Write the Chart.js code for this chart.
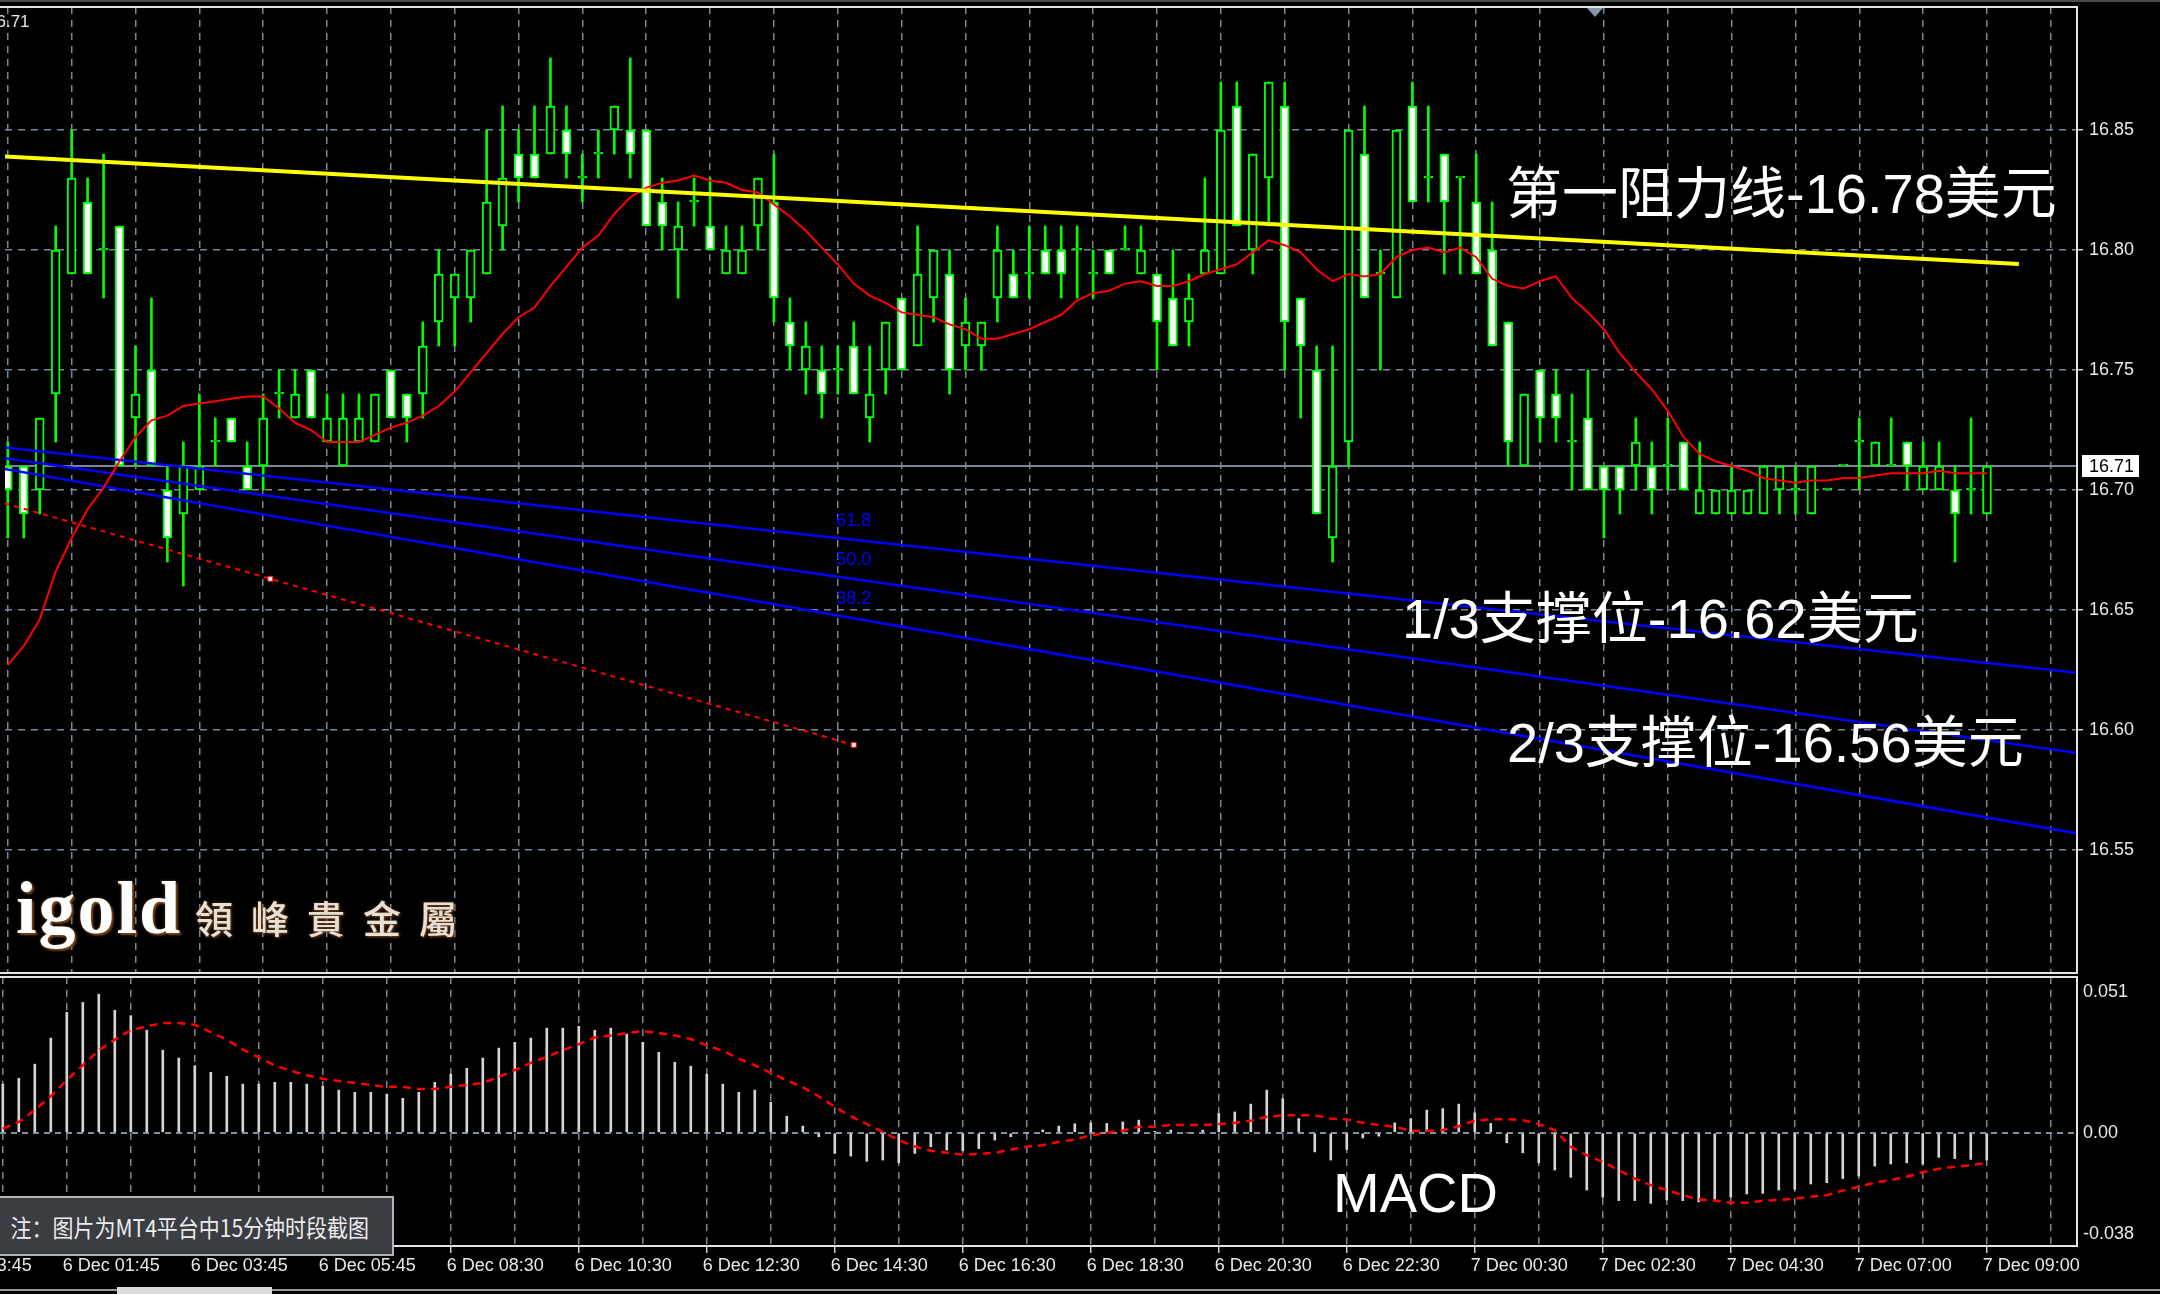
<!DOCTYPE html>
<html>
<head>
<meta charset="utf-8">
<title>XAG/USD M15</title>
<script src="https://cdn.jsdelivr.net/npm/chart.js@4.4.1/dist/chart.umd.min.js"></script>
<style>
  html, body { margin: 0; padding: 0; background: #000; width: 2160px; height: 1294px; overflow: hidden; }
  #wrap { position: relative; width: 2160px; height: 1294px; background: #000; overflow: hidden; }
  canvas { position: absolute; left: 0; }
  #price { top: 0; }
  #macd { top: 970px; }
  .topband { position: absolute; left: 0; top: 0; width: 2160px; height: 2px; background: #4a4a4a; }
  .note { position: absolute; white-space: nowrap; color: #fff; }
  .big { font-family: "Liberation Sans", "Noto Sans CJK SC", sans-serif; font-size: 56px; line-height: 56px; }
  .shift { position: absolute; left: 1587px; top: 8px; width: 0; height: 0;
           border-left: 8px solid transparent; border-right: 8px solid transparent; border-top: 9px solid #8595a5; }
  .hdr { position: absolute; left: -13px; top: 12px; font: 17px "Liberation Sans", sans-serif; color: #e8e8e8; line-height: 20px; }
  .logo-en { position: absolute; left: 16px; top: 871px; font: bold 74px "Liberation Serif", serif; line-height: 74px;
             letter-spacing: 2px; color: #fff; text-shadow: 2px 2px 2px #7a4515, 0 0 3px #6b3a10; }
  .logo-zh { position: absolute; left: 195px; top: 898px; font: 500 38px "Noto Sans CJK TC", sans-serif; line-height: 38px;
             letter-spacing: 18px; color: #e6e0da; text-shadow: 1px 1px 3px #7a4515, 0 0 2px #6b3a10; }
  .memo { position: absolute; left: -2px; top: 1196px; width: 396px; height: 60px; background: #3a3d42;
          border: 2px solid #b4b4b4; box-sizing: border-box; display: flex; align-items: center; }
  .memo span { display: inline-block; padding-left: 12px; font: 24px "Noto Sans CJK SC", sans-serif; color: #ececec;
               transform: scaleX(0.875); transform-origin: left center; white-space: nowrap; }
  .footline { position: absolute; left: 0; top: 1289px; width: 2160px; height: 2px; background: #9a9a9a; }
  .foottab { position: absolute; left: 117px; top: 1287px; width: 155px; height: 7px; background: #dcdcdc; }
</style>
</head>
<body>
<div id="wrap">
  <div class="topband"></div>
  <canvas id="price" width="2160" height="980"></canvas>
  <canvas id="macd" width="2160" height="324"></canvas>
  <div class="shift"></div>
  <div class="hdr">16.71</div>

  <div class="note big" style="left:1506px; top:166px;">第一阻力线-16.78美元</div>
  <div class="note big" style="left:1402px; top:591px;">1/3支撑位-16.62美元</div>
  <div class="note big" style="left:1507px; top:715px;">2/3支撑位-16.56美元</div>
  <div class="note big" style="left:1333px; top:1165px;">MACD</div>

  <div class="logo-en">igold</div>
  <div class="logo-zh">領峰貴金屬</div>

  <div class="memo"><span>注：图片为MT4平台中15分钟时段截图</span></div>
  <div class="footline"></div>
  <div class="foottab"></div>
</div>

<script>
// ---------------- 15-minute bars, 6 Dec 00:45 → 7 Dec 09:00 ----------------
const opens = [
  16.71,16.71,16.70,16.74,16.79,16.82,16.80,16.81,16.73,16.75,
  16.70,16.69,16.70,16.72,16.73,16.71,16.71,16.74,16.73,16.75,
  16.72,16.71,16.72,16.72,16.75,16.74,16.74,16.77,16.78,16.78,
  16.79,16.81,16.84,16.84,16.84,16.85,16.83,16.84,16.85,16.85,
  16.85,16.82,16.80,16.82,16.81,16.79,16.79,16.81,16.82,16.77,
  16.75,16.75,16.75,16.76,16.73,16.75,16.78,16.76,16.78,16.79,
  16.76,16.76,16.78,16.79,16.79,16.80,16.80,16.80,16.79,16.80,
  16.80,16.79,16.79,16.78,16.77,16.79,16.79,16.86,16.80,16.83,
  16.86,16.78,16.75,16.68,16.72,16.84,16.79,16.78,16.86,16.83,
  16.84,16.83,16.82,16.80,16.77,16.71,16.75,16.74,16.72,16.73,
  16.71,16.71,16.71,16.71,16.71,16.72,16.69,16.69,16.69,16.69,
  16.69,16.70,16.70,16.69,16.70,16.71,16.72,16.71,16.71,16.72,
  16.70,16.70,16.70,16.70,16.69
];
const highs = [
  16.72,16.71,16.73,16.81,16.85,16.83,16.84,16.81,16.76,16.78,
  16.71,16.72,16.74,16.73,16.73,16.72,16.74,16.75,16.75,16.75,
  16.74,16.74,16.74,16.74,16.75,16.74,16.77,16.80,16.79,16.80,
  16.85,16.86,16.85,16.86,16.88,16.86,16.84,16.85,16.86,16.88,
  16.85,16.83,16.82,16.83,16.83,16.81,16.81,16.83,16.84,16.78,
  16.77,16.76,16.76,16.77,16.76,16.77,16.78,16.81,16.80,16.80,
  16.78,16.77,16.81,16.80,16.81,16.81,16.81,16.81,16.80,16.80,
  16.81,16.81,16.79,16.80,16.79,16.83,16.87,16.87,16.84,16.87,
  16.87,16.78,16.76,16.76,16.85,16.86,16.80,16.85,16.87,16.86,
  16.84,16.83,16.84,16.82,16.77,16.74,16.75,16.75,16.74,16.75,
  16.71,16.71,16.73,16.72,16.73,16.72,16.72,16.70,16.71,16.70,
  16.71,16.71,16.71,16.71,16.70,16.71,16.73,16.72,16.73,16.72,
  16.72,16.72,16.71,16.73,16.71
];
const lows = [
  16.68,16.68,16.69,16.72,16.79,16.79,16.78,16.71,16.71,16.71,
  16.67,16.66,16.70,16.71,16.72,16.70,16.70,16.73,16.73,16.73,
  16.72,16.71,16.72,16.72,16.73,16.72,16.73,16.76,16.76,16.77,
  16.79,16.80,16.82,16.83,16.84,16.83,16.82,16.83,16.84,16.83,
  16.81,16.80,16.78,16.81,16.80,16.79,16.79,16.80,16.77,16.75,
  16.74,16.73,16.74,16.74,16.72,16.74,16.75,16.76,16.77,16.74,
  16.75,16.75,16.77,16.78,16.78,16.79,16.78,16.78,16.78,16.79,
  16.80,16.79,16.75,16.76,16.76,16.79,16.79,16.81,16.79,16.81,
  16.75,16.73,16.69,16.67,16.71,16.78,16.75,16.78,16.82,16.82,
  16.79,16.79,16.79,16.76,16.71,16.71,16.72,16.72,16.70,16.70,
  16.68,16.69,16.70,16.69,16.70,16.70,16.69,16.69,16.69,16.69,
  16.69,16.69,16.69,16.69,16.70,16.71,16.70,16.71,16.71,16.70,
  16.70,16.70,16.67,16.69,16.69
];
const closes = [
  16.70,16.69,16.73,16.80,16.83,16.79,16.80,16.71,16.74,16.71,
  16.68,16.71,16.71,16.72,16.72,16.70,16.73,16.74,16.74,16.73,
  16.73,16.73,16.73,16.74,16.73,16.73,16.76,16.79,16.79,16.80,
  16.82,16.83,16.83,16.83,16.86,16.84,16.83,16.84,16.86,16.84,
  16.81,16.81,16.81,16.82,16.80,16.80,16.80,16.83,16.78,16.76,
  16.76,16.74,16.75,16.74,16.74,16.77,16.75,16.79,16.80,16.75,
  16.77,16.77,16.80,16.78,16.79,16.79,16.79,16.80,16.79,16.79,
  16.80,16.80,16.77,16.76,16.78,16.80,16.85,16.81,16.84,16.87,
  16.77,16.76,16.69,16.71,16.85,16.78,16.79,16.85,16.82,16.83,
  16.82,16.83,16.79,16.76,16.72,16.74,16.73,16.73,16.72,16.70,
  16.70,16.70,16.72,16.70,16.71,16.70,16.70,16.70,16.70,16.70,
  16.71,16.71,16.70,16.71,16.70,16.71,16.72,16.72,16.71,16.71,
  16.71,16.71,16.69,16.70,16.71
];

// moving average (red) per bar
const maValues = [
  16.627,16.635,16.646,16.666,16.680,16.692,16.701,16.712,16.722,16.729,
  16.731,16.735,16.736,16.737,16.738,16.739,16.739,16.734,16.728,16.725,
  16.720,16.720,16.720,16.723,16.726,16.728,16.731,16.735,16.741,16.749,
  16.757,16.765,16.772,16.776,16.785,16.793,16.801,16.806,16.815,16.822,
  16.826,16.828,16.829,16.831,16.829,16.828,16.825,16.824,16.819,16.814,
  16.808,16.801,16.794,16.786,16.781,16.778,16.774,16.773,16.772,16.769,
  16.767,16.763,16.763,16.765,16.767,16.770,16.773,16.779,16.782,16.783,
  16.786,16.787,16.785,16.785,16.787,16.790,16.792,16.794,16.799,16.804,
  16.802,16.799,16.792,16.787,16.790,16.789,16.790,16.797,16.800,16.801,
  16.799,16.801,16.797,16.788,16.785,16.784,16.787,16.789,16.780,16.774,
  16.767,16.757,16.749,16.742,16.733,16.722,16.715,16.712,16.710,16.708,
  16.705,16.704,16.703,16.704,16.704,16.705,16.705,16.706,16.707,16.707,
  16.707,16.708,16.707,16.707,16.707
];

// MACD histogram and signal per bar
const macdHist = [
  0.0161,0.0180,0.0227,0.0313,0.0398,0.0431,0.0458,0.0405,0.0387,0.0339,
  0.0273,0.0247,0.0222,0.0200,0.0187,0.0161,0.0161,0.0167,0.0167,0.0161,
  0.0154,0.0141,0.0134,0.0134,0.0128,0.0114,0.0134,0.0167,0.0194,0.0213,
  0.0247,0.0280,0.0299,0.0313,0.0346,0.0346,0.0352,0.0339,0.0346,0.0326,
  0.0299,0.0266,0.0233,0.0220,0.0194,0.0161,0.0134,0.0141,0.0101,0.0055,
  0.0022,-0.0013,-0.0068,-0.0077,-0.0094,-0.0090,-0.0099,-0.0068,-0.0046,-0.0057,
  -0.0059,-0.0052,-0.0024,-0.0013,0.0000,0.0010,0.0022,0.0030,0.0033,0.0031,
  0.0036,0.0042,0.0005,0.0009,0.0000,0.0009,0.0064,0.0069,0.0095,0.0141,
  0.0113,0.0047,-0.0063,-0.0090,-0.0055,-0.0017,-0.0011,0.0033,0.0047,0.0075,
  0.0080,0.0095,0.0066,0.0031,-0.0033,-0.0066,-0.0099,-0.0123,-0.0147,-0.0189,
  -0.0213,-0.0224,-0.0224,-0.0233,-0.0222,-0.0224,-0.0228,-0.0220,-0.0213,-0.0202,
  -0.0200,-0.0189,-0.0187,-0.0169,-0.0165,-0.0151,-0.0143,-0.0110,-0.0103,-0.0099,
  -0.0103,-0.0081,-0.0085,-0.0088,-0.0090
];
const macdSignal = [
  0.0014,0.0036,0.0075,0.0121,0.0174,0.0223,0.0273,0.0308,0.0339,0.0352,
  0.0363,0.0363,0.0357,0.0333,0.0308,0.0275,0.0249,0.0223,0.0205,0.0190,
  0.0179,0.0171,0.0165,0.0158,0.0152,0.0152,0.0145,0.0145,0.0152,0.0158,
  0.0165,0.0185,0.0207,0.0231,0.0251,0.0273,0.0293,0.0315,0.0322,0.0330,
  0.0336,0.0330,0.0322,0.0310,0.0289,0.0271,0.0245,0.0223,0.0198,0.0174,
  0.0150,0.0121,0.0086,0.0055,0.0029,0.0003,-0.0024,-0.0045,-0.0059,-0.0066,
  -0.0072,-0.0070,-0.0066,-0.0055,-0.0046,-0.0041,-0.0030,-0.0022,-0.0008,0.0000,
  0.0007,0.0020,0.0020,0.0026,0.0026,0.0026,0.0029,0.0033,0.0040,0.0053,
  0.0058,0.0058,0.0058,0.0047,0.0044,0.0033,0.0026,0.0020,0.0007,0.0007,
  0.0009,0.0022,0.0040,0.0045,0.0045,0.0042,0.0029,0.0009,-0.0046,-0.0074,
  -0.0096,-0.0123,-0.0151,-0.0173,-0.0189,-0.0206,-0.0220,-0.0224,-0.0231,-0.0231,
  -0.0224,-0.0222,-0.0218,-0.0211,-0.0206,-0.0191,-0.0178,-0.0165,-0.0156,-0.0145,
  -0.0130,-0.0119,-0.0112,-0.0107,-0.0099
];

// drawn objects: [bar, price] anchor points
const resistanceLine = [[-1, 16.8392], [126, 16.7942]];
const fanBaseLine    = [[-20.1, 16.7321], [16.45, 16.6630], [53, 16.5938]];
const fanRay618      = [[-1, 16.7183], [130, 16.6236]];
const fanRay500      = [[-1, 16.7140], [130, 16.5901]];
const fanRay382      = [[-1, 16.7097], [130, 16.5565]];
const fanLevelLabels = ['61.8', '50.0', '38.2'];
const fanLevelPrices = [16.6792, 16.6629, 16.6466];
const fanLabelBar    = 53;
const bidPrice       = 16.71;
const bidLine        = [[-1, bidPrice], [131, bidPrice]];

// axes
const priceTicks     = [16.55, 16.60, 16.65, 16.70, 16.75, 16.80, 16.85];
const priceMin = 16.49875, priceMax = 16.90125;
const macdTicks      = [0.051, 0.00, -0.038];
const macdTickLabels = ['0.051', '0.00', '-0.038'];
const macdMin = -0.0374, macdMax = 0.0515;
const gridBars = [-4,0,4,8,12,16,20,24,28,32,36,40,44,48,52,56,60,64,68,72,76,80,84,88,92,96,100,104,108,112,116,120,124,128];
const timeTickBars   = [-4,4,12,20,28,36,44,52,60,68,76,84,92,100,108,116,124];
const timeTickLabels = ['5 Dec 23:45','6 Dec 01:45','6 Dec 03:45','6 Dec 05:45','6 Dec 08:30','6 Dec 10:30',
  '6 Dec 12:30','6 Dec 14:30','6 Dec 16:30','6 Dec 18:30','6 Dec 20:30','6 Dec 22:30',
  '7 Dec 00:30','7 Dec 02:30','7 Dec 04:30','7 Dec 07:00','7 Dec 09:00'];
const xMin = -0.175, xMax = 129.64;

// ---------------- helpers ----------------
const GRID = '#778899';
const AXIS_FONT = { family: 'Liberation Sans', size: 18 };
const toXY = pts => pts.map(p => ({ x: p[0], y: p[1] }));
const labelAt = v => { const k = timeTickBars.indexOf(v); return k < 0 ? '' : timeTickLabels[k]; };

function xAxis(withLabels) {
  return {
    type: 'linear', min: xMin, max: xMax, offset: false,
    afterBuildTicks: s => { s.ticks = gridBars.map(v => ({ value: v })); },
    grid: {
      color: GRID, lineWidth: 1.5, offset: false, borderDash: [7, 6],
      drawTicks: withLabels, tickLength: 7, tickWidth: 1.5,
      tickColor: c => (c.tick && timeTickBars.includes(c.tick.value)) ? '#d0d0d0' : 'rgba(0,0,0,0)'
    },
    border: { display: false, dash: [7, 6] },
    ticks: {
      display: withLabels, autoSkip: false, maxRotation: 0, minRotation: 0,
      align: 'start', labelOffset: -4, padding: 2, color: '#e8e8e8', font: AXIS_FONT,
      callback: v => labelAt(v)
    },
    afterFit: s => { s.paddingLeft = 0; s.paddingRight = 0; s.height = withLabels ? 48 : 0; }
  };
}

// panel frame: top, right and bottom edges
const framePlugin = {
  id: 'frame',
  afterDraw(chart) {
    const { ctx, chartArea: a } = chart;
    ctx.save();
    ctx.strokeStyle = '#e4e4e4';
    ctx.lineWidth = 2;
    ctx.beginPath();
    ctx.moveTo(0, a.top);
    ctx.lineTo(a.right, a.top);
    ctx.lineTo(a.right, a.bottom);
    ctx.lineTo(0, a.bottom);
    ctx.stroke();
    ctx.restore();
  }
};

const priceExtras = {
  id: 'priceExtras',
  afterDraw(chart) {
    const { ctx } = chart;
    const xs = chart.scales.x, ys = chart.scales.y;
    ctx.save();
    // fan level captions
    ctx.font = '18px "Liberation Sans"';
    ctx.fillStyle = '#0000ff';
    ctx.textAlign = 'center';
    ctx.textBaseline = 'alphabetic';
    fanLevelLabels.forEach((t, i) => {
      ctx.fillText(t, xs.getPixelForValue(fanLabelBar), ys.getPixelForValue(fanLevelPrices[i]) - 14);
    });
    // bid price tag on the axis
    const py = ys.getPixelForValue(bidPrice);
    ctx.fillStyle = '#ffffff';
    ctx.fillRect(ys.left + 5, py - 11, 57, 22);
    ctx.fillStyle = '#000000';
    ctx.textAlign = 'left';
    ctx.textBaseline = 'middle';
    ctx.font = '18px "Liberation Sans"';
    ctx.fillText(bidPrice.toFixed(2), ys.left + 12, py + 1);
    ctx.restore();
  }
};

const macdAxisLabels = {
  id: 'macdAxisLabels',
  afterDraw(chart) {
    const { ctx, chartArea: a } = chart;
    const ys = chart.scales.y;
    ctx.save();
    ctx.font = '18px "Liberation Sans"';
    ctx.fillStyle = '#e8e8e8';
    ctx.textAlign = 'left';
    ctx.textBaseline = 'middle';
    macdTicks.forEach((v, i) => {
      let py = ys.getPixelForValue(v);
      py = Math.min(Math.max(py, a.top + 15), a.bottom - 12);
      ctx.fillText(macdTickLabels[i], ys.left + 6, py);
    });
    ctx.restore();
  }
};

// ---------------- price chart ----------------
const bodies = opens.map((o, i) => ({ x: i, y: [Math.min(o, closes[i]), Math.max(o, closes[i])] }));
const wicks  = highs.map((h, i) => ({ x: i, y: [lows[i], h] }));
const maPts  = maValues.map((v, i) => ({ x: i, y: v }));

new Chart(document.getElementById('price'), {
  type: 'bar',
  data: {
    datasets: [
      { type: 'line', label: 'resistance', data: toXY(resistanceLine), borderColor: '#ffff00', borderWidth: 4,
        pointRadius: 0, tension: 0, order: 1 },
      { type: 'line', label: 'MA', data: maPts, borderColor: '#ff0000', borderWidth: 2,
        pointRadius: 0, tension: 0, order: 2 },
      { type: 'line', label: '61.8', data: toXY(fanRay618), borderColor: '#0000ff', borderWidth: 2.5,
        pointRadius: 0, order: 3 },
      { type: 'line', label: '50.0', data: toXY(fanRay500), borderColor: '#0000ff', borderWidth: 2.5,
        pointRadius: 0, order: 3 },
      { type: 'line', label: '38.2', data: toXY(fanRay382), borderColor: '#0000ff', borderWidth: 2.5,
        pointRadius: 0, order: 3 },
      { type: 'line', label: 'fan base', data: toXY(fanBaseLine), borderColor: '#ff0000', borderWidth: 2,
        borderDash: [5, 5], pointStyle: 'rect', pointRadius: [0, 3.5, 3.5], pointBackgroundColor: '#ffffff',
        pointBorderColor: '#ff0000', pointBorderWidth: 1, order: 4 },
      { type: 'bar', label: 'body', data: bodies, grouped: false, barThickness: 9, minBarLength: 2,
        borderSkipped: false, borderWidth: 2, borderColor: '#00ff00',
        backgroundColor: c => (closes[c.dataIndex] < opens[c.dataIndex]) ? '#ffffff' : '#000000', order: 6 },
      { type: 'bar', label: 'wick', data: wicks, grouped: false, barThickness: 2,
        backgroundColor: '#00ff00', borderWidth: 0, order: 7 },
      { type: 'line', label: 'bid', data: toXY(bidLine), borderColor: '#778899', borderWidth: 2,
        pointRadius: 0, order: 8 }
    ]
  },
  options: {
    responsive: false, animation: false, events: [],
    layout: { padding: { top: 7, bottom: 7, left: 0, right: 0 } },
    plugins: { legend: { display: false }, tooltip: { enabled: false } },
    scales: {
      x: xAxis(false),
      y: {
        type: 'linear', position: 'right', min: priceMin, max: priceMax, beginAtZero: false,
        afterBuildTicks: s => { s.ticks = priceTicks.map(v => ({ value: v })); },
        grid: { color: GRID, lineWidth: 1.5, borderDash: [7, 6], drawTicks: true, tickLength: 6,
                tickColor: '#d0d0d0', tickWidth: 1.5 },
        border: { display: false, dash: [7, 6] },
        ticks: { color: '#e8e8e8', font: AXIS_FONT, padding: 6, callback: v => v.toFixed(2) },
        afterFit: s => { s.width = 83; s.paddingTop = 0; s.paddingBottom = 0; }
      }
    }
  },
  plugins: [framePlugin, priceExtras]
});

// ---------------- MACD chart ----------------
new Chart(document.getElementById('macd'), {
  type: 'bar',
  data: {
    datasets: [
      { type: 'line', label: 'signal', data: macdSignal.map((v, i) => ({ x: i, y: v })),
        borderColor: '#ff0000', borderWidth: 2.5, borderDash: [8, 6], pointRadius: 0, tension: 0, order: 1 },
      { type: 'bar', label: 'MACD', data: macdHist.map((v, i) => ({ x: i, y: v })), grouped: false,
        barThickness: 2, backgroundColor: '#d4d4d4', borderWidth: 0, order: 2 }
    ]
  },
  options: {
    responsive: false, animation: false, events: [],
    layout: { padding: { top: 7, bottom: 0, left: 0, right: 0 } },
    plugins: { legend: { display: false }, tooltip: { enabled: false } },
    scales: {
      x: xAxis(true),
      y: {
        type: 'linear', position: 'right', min: macdMin, max: macdMax, beginAtZero: false,
        afterBuildTicks: s => { s.ticks = [{ value: 0 }]; },
        grid: { color: '#8090a0', lineWidth: 2, borderDash: [6, 5], drawTicks: false },
        border: { display: false, dash: [6, 5] },
        ticks: { display: false },
        afterFit: s => { s.width = 83; s.paddingTop = 0; s.paddingBottom = 0; }
      }
    }
  },
  plugins: [framePlugin, macdAxisLabels]
});
</script>
</body>
</html>
